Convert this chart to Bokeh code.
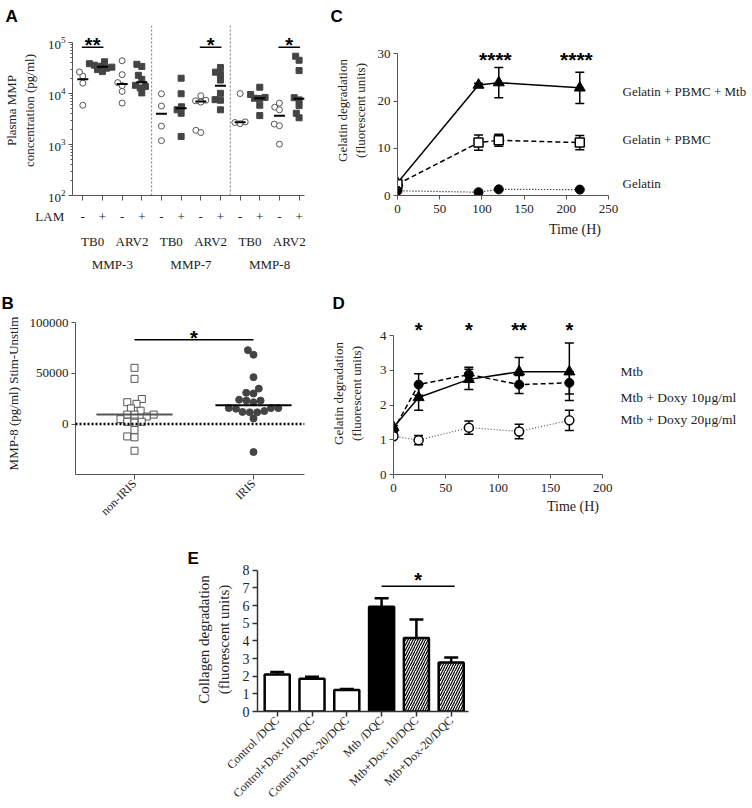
import math
import numpy as np
from bokeh.plotting import figure
from bokeh.models import (Range1d, FixedTicker, LinearAxis, Label, Span, Whisker,
                          ColumnDataSource, TeeHead, BasicTickFormatter)
from bokeh.layouts import column, row
from bokeh.embed import file_html
from bokeh.resources import INLINE

# ---------------- data ----------------
# Panel A: plasma MMP concentration (pg/ml), one list per LAM column
lam_signs = ["-", "+"]
lam_title = "LAM"
timepoints = ["TB0", "ARV2"]
mmps = ["MMP-3", "MMP-7", "MMP-8"]
a_mmp3_tb0_neg = [22000, 26500, 16000, 5900]
a_mmp3_tb0_pos = [27000, 29500, 31500, 33000, 34500, 36000, 38500, 42000]
a_mmp3_arv2_neg = [44000, 23500, 16400, 14300, 11000, 6500]
a_mmp3_arv2_pos = [37500, 34000, 22800, 19000, 14500, 13700, 12900, 10300]
a_mmp7_tb0_neg = [9900, 5700, 2300, 1190]
a_mmp7_tb0_pos = [20000, 9900, 5500, 4800, 4100, 1440]
a_mmp7_arv2_neg = [9050, 7400, 7200, 6800, 1900, 1720]
a_mmp7_arv2_pos = [32500, 26300, 23800, 18400, 10100, 7600, 7400, 4800]
a_mmp8_tb0_neg = [10000, 2780, 2700, 2570]
a_mmp8_tb0_pos = [13300, 9600, 8400, 8100, 8000, 5900, 3700]
a_mmp8_arv2_neg = [6500, 5400, 4800, 2520, 2340, 1015]
a_mmp8_arv2_pos = [54000, 45000, 28200, 8300, 7500, 5800, 4100, 3350]
A_groups = [a_mmp3_tb0_neg, a_mmp3_tb0_pos, a_mmp3_arv2_neg, a_mmp3_arv2_pos,
            a_mmp7_tb0_neg, a_mmp7_tb0_pos, a_mmp7_arv2_neg, a_mmp7_arv2_pos,
            a_mmp8_tb0_neg, a_mmp8_tb0_pos, a_mmp8_arv2_neg, a_mmp8_arv2_pos]
A_sig_pairs = [(0, 1), (6, 7), (10, 11)]
A_sig_marks = ["**", "*", "*"]

# Panel B: MMP-8 (pg/ml) Stim-Unstim
B_groups = ["non-IRIS", "IRIS"]
b_non_iris = [55400, 44550, 24700, 21500, 19900, 15400, 13100, 9300, 9300, 9300,
              7400, 4800, 2200, 1300, 2200, -5800, -12200, -13100, -26300]
b_iris = [72800, 68300, 46200, 34900, 30100, 30800, 24000, 23100, 23100, 21500,
          15700, 15100, 15700, 15700, 11500, 11900, 12800, 11500, 5450, -27600]

# Panel C: gelatin degradation over time
time_C = [0, 96, 120, 216]
c_mtb = [2.7, 23.4, 23.9, 22.8]
c_mtb_err = [0.3, 0.4, 3.2, 3.3]
c_pbmc = [2.4, 11.2, 11.7, 11.2]
c_pbmc_err = [0.3, 1.6, 1.25, 1.5]
c_gel = [1.0, 0.7, 1.3, 1.25]
C_series = ["Gelatin + PBMC + Mtb", "Gelatin + PBMC", "Gelatin"]
C_sig_times = [120, 216]
C_sig_marks = ["****", "****"]

# Panel D
time_D = [0, 24, 72, 120, 168]
d_mtb = [1.36, 2.22, 2.74, 2.96, 2.96]
d_mtb_err = [0.05, 0.37, 0.29, 0.41, 0.83]
d_dox10 = [1.28, 2.59, 2.88, 2.59, 2.64]
d_dox10_err = [0.05, 0.31, 0.21, 0.26, 0.32]
d_dox20 = [1.10, 0.99, 1.35, 1.24, 1.56]
d_dox20_err = [0.05, 0.13, 0.19, 0.21, 0.29]
D_series = ["Mtb", "Mtb + Doxy 10μg/ml", "Mtb + Doxy 20μg/ml"]
D_sig_marks = ["*", "*", "**", "*"]
D_sig_times = [24, 72, 120, 168]

# Panel E
E_labels = ["Control /DQC", "Control+Dox-10/DQC", "Control+Dox-20/DQC",
            "Mtb /DQC", "Mtb+Dox-10/DQC", "Mtb+Dox-20/DQC"]
e_vals = [2.1, 1.86, 1.22, 5.94, 4.16, 2.78]
e_err = [0.14, 0.11, 0.06, 0.48, 1.05, 0.28]
E_sig_pair = (3, 5)
E_sig_mark = "*"

# styles (kept apart from the data)
E_fill = ["open", "open", "open", "solid", "hatch", "hatch"]

SERIF = "Liberation Serif"
SANS = "Liberation Sans"
TXT = "#222222"
NB = "\u00a0"


class Map:
    """maps reference-pixel positions to data coordinates of one panel"""
    def __init__(self, px0, sx, py0, sy, ylog=False, ybase=0.0):
        self.px0, self.sx, self.py0, self.sy = px0, sx, py0, sy
        self.ylog, self.ybase = ylog, ybase

    def x(self, px):
        return (px - self.px0) / self.sx

    def y(self, py):
        v = self.ybase + (self.py0 - py) / self.sy
        return 10 ** v if self.ylog else v


def swarm(py, d):
    py = np.asarray(py, float)
    order = np.argsort(py, kind="stable")
    placed = []
    xs = np.zeros(len(py))
    for i in order:
        y = py[i]
        cands = [0.0]
        for (qx, qy) in placed:
            dy = abs(qy - y)
            if dy < d:
                dx = math.sqrt(d * d - dy * dy)
                cands += [qx + dx, qx - dx]
        cands.sort(key=lambda c: (abs(c), c))
        for c in cands:
            if all((c - qx) ** 2 + (y - qy) ** 2 >= d * d - 1e-6 for qx, qy in placed):
                xs[i] = c
                break
        placed.append((xs[i], y))
    return xs


def make_fig(fx0, fy0, fx1, fy1, left, right, top, bottom, x_range, y_range, y_axis_type="linear"):
    p = figure(width=fx1 - fx0, height=fy1 - fy0, x_range=x_range, y_range=y_range,
               y_axis_type=y_axis_type, output_backend="svg", toolbar_location=None,
               min_border_left=int(round(left - fx0)), min_border_right=int(round(fx1 - right)),
               min_border_top=int(round(top - fy0)), min_border_bottom=int(round(fy1 - bottom)))
    p.xgrid.visible = False
    p.ygrid.visible = False
    p.outline_line_color = None
    return p


def letter(p, t, frame_left, page_x):
    p.title.text = t
    p.title.text_font = SANS
    p.title.text_font_size = "17px"
    p.title.text_font_style = "bold"
    p.title.text_color = "black"
    p.title.align = "left"
    p.title.offset = page_x - frame_left
    p.title.standoff = 0


def style_axis(ax, size="13px", color="#555555", tick_out=4, standoff=3, width=1):
    ax.axis_line_color = color
    ax.axis_line_width = width
    ax.major_tick_line_color = color
    ax.major_tick_line_width = width
    ax.minor_tick_line_color = color
    ax.major_tick_in = 0
    ax.major_tick_out = tick_out
    ax.minor_tick_in = 0
    ax.minor_tick_out = 2
    ax.major_label_standoff = standoff
    ax.major_label_text_font = SERIF
    ax.major_label_text_font_size = size
    ax.major_label_text_color = TXT
    ax.axis_label_text_font = SERIF
    ax.axis_label_text_font_style = "normal"
    ax.axis_label_text_color = TXT


def text(p, x, y, t, size="13px", font=SERIF, bold=False, align="left", baseline="middle"):
    p.add_layout(Label(x=x, y=y, text=t, text_font=font, text_font_size=size,
                       text_font_style="bold" if bold else "normal", text_align=align,
                       text_baseline=baseline, text_color=TXT if font == SERIF else "black"))


def star(p, x, y, t, size="20px"):
    text(p, x, y, t, size=size, font=SANS, bold=True, align="center", baseline="middle")


# ---------------- Panel A ----------------
mA = Map(78.5, 20.0, 204.0, 53.67, ylog=True, ybase=2.0)
pA = make_fig(0, 0, 310, 283, 68, 304, 25, 204,
              Range1d(mA.x(68), mA.x(304)), Range1d(100, mA.y(25)), "log")
letter(pA, "A", 68, 1)
ya = pA.yaxis[0]
style_axis(ya)
ya.ticker = FixedTicker(ticks=[1e2, 1e3, 1e4, 1e5],
                        minor_ticks=[k * 10 ** n for n in (2, 3, 4) for k in range(2, 10)])
ya.bounds = (100, 1e5)
ya.axis_label = "Plasma MMP\nconcentration (pg/ml)"
ya.axis_label_text_font_size = "13px"
ya.axis_label_standoff = 8

n_cols = len(A_groups)
sign_labels = {i: lam_signs[i % 2] for i in range(n_cols)}
# the row title "LAM" sits left of the first "-" (padded so that "-" stays centred)
sign_labels[0] = lam_title + NB * 5 + lam_signs[0] + NB * 14
tp_labels = {i * 2 + 0.5: timepoints[i % 2] for i in range(n_cols // 2)}
mmp_labels = {i * 4 + 1.5: mmps[i] for i in range(len(mmps))}

xa1 = pA.xaxis[0]
style_axis(xa1, tick_out=5, standoff=8)
xa1.ticker = FixedTicker(ticks=list(sign_labels.keys()))
xa1.major_label_overrides = sign_labels
for labels, so in ((tp_labels, 7), (mmp_labels, 5)):
    ax = LinearAxis(ticker=FixedTicker(ticks=list(labels.keys())), major_label_overrides=labels)
    style_axis(ax, tick_out=0, standoff=so)
    ax.axis_line_color = None
    ax.major_tick_line_color = None
    ax.minor_tick_out = 0
    pA.add_layout(ax, "below")

for i, vals in enumerate(A_groups):
    vals = np.array(vals, float)
    dx = swarm(mA.sy * np.log10(vals), 5.5) / mA.sx
    if i % 2 == 0:
        pA.scatter(i + dx, vals, marker="circle", size=6, fill_color="white",
                   line_color="#555555", line_width=1)
    else:
        pA.scatter(i + dx, vals, marker="square", size=6, fill_color="#444444",
                   line_color="#444444")
    med = float(np.median(vals))
    pA.segment(x0=[i - 0.28], y0=[med], x1=[i + 0.28], y1=[med], line_color="black", line_width=2)

for loc in (3.5, 7.5):
    pA.add_layout(Span(location=loc, dimension="height", line_color="#777777",
                       line_dash="2 2", line_width=1))
for (i, j), mark in zip(A_sig_pairs, A_sig_marks):
    yb = mA.y(48)
    pA.segment(x0=[i - 0.05], y0=[yb], x1=[j + 0.05], y1=[yb], line_color="black", line_width=1.5)
    star(pA, (i + j) / 2, mA.y(46), mark)

# ---------------- Panel B ----------------
mB = Map(134.0, 119.0, 426.3, 0.00104)
pB = make_fig(0, 283, 310, 526, 75, 304, 312, 478,
              Range1d(mB.x(75), mB.x(304)), Range1d(mB.y(478), mB.y(312)))
letter(pB, "B", 75, 1)
yb_ax = pB.yaxis[0]
style_axis(yb_ax)
yb_ax.ticker = FixedTicker(ticks=[-50000, 0, 50000, 100000])
yb_ax.formatter = BasicTickFormatter(use_scientific=False)
yb_ax.bounds = (-50000, 100000)
yb_ax.axis_label = "MMP-8 (pg/ml) Stim-Unstim"
yb_ax.axis_label_text_font_size = "13px"
yb_ax.axis_label_standoff = 6
xb_ax = pB.xaxis[0]
style_axis(xb_ax, size="12px", tick_out=5, standoff=2)
xb_ax.ticker = FixedTicker(ticks=[0, 1])
xb_ax.major_label_overrides = {i: g for i, g in enumerate(B_groups)}
xb_ax.major_label_orientation = math.pi / 4

pB.add_layout(Span(location=0, dimension="width", line_color="black",
                   line_dash="2 2", line_width=2.5))
for i, vals in enumerate([b_non_iris, b_iris]):
    vals = np.array(vals, float)
    dx = swarm(vals * mB.sy, 7.3) / mB.sx
    if i == 0:
        pB.scatter(i + dx, vals, marker="square", size=7, fill_color="white",
                   line_color="#555555", line_width=1)
    else:
        pB.scatter(i + dx, vals, marker="circle", size=7, fill_color="#444444",
                   line_color="#444444")
    med = float(np.median(vals))
    pB.segment(x0=[i - 0.32], y0=[med], x1=[i + 0.32], y1=[med],
               line_color="#555555" if i == 0 else "black", line_width=2)
ysig = mB.y(340)
pB.segment(x0=[0], y0=[ysig], x1=[1], y1=[ysig], line_color="black", line_width=1.5)
star(pB, 0.5, mB.y(338), "*")

# ---------------- Panel C ----------------
mC = Map(397.0, 0.844, 195.0, 4.777)
pC = make_fig(310, 0, 752, 283, 397, 752, 23, 195,
              Range1d(mC.x(397), mC.x(752)), Range1d(0, mC.y(23)))
letter(pC, "C", 397, 330)
xc = pC.xaxis[0]
style_axis(xc, tick_out=4, standoff=5)
xc.ticker = FixedTicker(ticks=[0, 50, 100, 150, 200, 250])
xc.bounds = (0, 250)
xc.axis_label = "Time (H)"
xc.axis_label_text_font_size = "14px"
xc.axis_label_standoff = 6
yc = pC.yaxis[0]
style_axis(yc)
yc.ticker = FixedTicker(ticks=[0, 10, 20, 30])
yc.bounds = (0, 30)
yc.axis_label = "Gelatin degradation\n(fluorescent units)"
yc.axis_label_text_font_size = "13px"
yc.axis_label_standoff = 7


def err_bars(p, xs, ys, es, cap):
    ys = np.array(ys, float)
    es = np.array(es, float)
    src = ColumnDataSource(dict(base=list(xs), lower=list(ys - es), upper=list(ys + es)))
    w = Whisker(source=src, base="base", lower="lower", upper="upper", line_color="black",
                line_width=1.5,
                upper_head=TeeHead(size=cap, line_color="black", line_width=1.5),
                lower_head=TeeHead(size=cap, line_color="black", line_width=1.5))
    p.add_layout(w)


err_bars(pC, time_C, c_mtb, c_mtb_err, 9)
err_bars(pC, time_C, c_pbmc, c_pbmc_err, 9)
pC.line(time_C, c_mtb, line_color="black", line_width=1.5)
pC.line(time_C, c_pbmc, line_color="black", line_width=1.5, line_dash="5 3")
pC.line(time_C, c_gel, line_color="black", line_width=1.2, line_dash="1 2")
pC.scatter(time_C, c_mtb, marker="triangle", size=11, fill_color="black", line_color="black")
pC.scatter(time_C, c_pbmc, marker="square", size=9, fill_color="white", line_color="black",
           line_width=1.5)
pC.scatter(time_C, c_gel, marker="circle", size=9, fill_color="black", line_color="black")
for t, mark in zip(C_sig_times, C_sig_marks):
    star(pC, t - 4, mC.y(57), mark, size="21px")
for name, py in zip(C_series, (90, 138, 183)):
    text(pC, mC.x(622), mC.y(py), name, size="13px")

# ---------------- Panel D ----------------
mD = Map(393.0, 1.0467, 474.0, 35.575)
pD = make_fig(310, 283, 752, 526, 393, 752, 308, 474,
              Range1d(mD.x(393), mD.x(752)), Range1d(0, mD.y(308)))
letter(pD, "D", 393, 332)
xd = pD.xaxis[0]
style_axis(xd, tick_out=4, standoff=5)
xd.ticker = FixedTicker(ticks=[0, 50, 100, 150, 200])
xd.bounds = (0, 200)
xd.axis_label = "Time (H)"
xd.axis_label_text_font_size = "14px"
xd.axis_label_standoff = 4
yd = pD.yaxis[0]
style_axis(yd)
yd.ticker = FixedTicker(ticks=[0, 1, 2, 3, 4])
yd.bounds = (0, 4)
yd.axis_label = "Gelatin degradation\n(fluorescent units)"
yd.axis_label_text_font_size = "13px"
yd.axis_label_standoff = 13

err_bars(pD, time_D, d_mtb, d_mtb_err, 9)
err_bars(pD, time_D, d_dox10, d_dox10_err, 9)
err_bars(pD, time_D, d_dox20, d_dox20_err, 9)
pD.line(time_D, d_dox20, line_color="#555555", line_width=1.2, line_dash="1 2")
pD.line(time_D, d_mtb, line_color="black", line_width=1.5)
pD.line(time_D, d_dox10, line_color="black", line_width=1.5, line_dash="5 3")
pD.scatter(time_D, d_mtb, marker="triangle", size=11, fill_color="black", line_color="black")
pD.scatter(time_D, d_dox10, marker="circle", size=9, fill_color="black", line_color="black")
pD.scatter(time_D, d_dox20, marker="circle", size=9, fill_color="white", line_color="black",
           line_width=1.5)
for t, mark in zip(D_sig_times, D_sig_marks):
    star(pD, t, mD.y(326), mark)
for name, py in zip(D_series, (368, 395, 418)):
    text(pD, mD.x(620), mD.y(py), name, size="13.5px")

# ---------------- Panel E ----------------
mE = Map(276.7, 34.8, 713.0, 17.9)
pE = make_fig(0, 526, 752, 808, 257, 468, 567, 713,
              Range1d(mE.x(257), mE.x(468)), Range1d(0, mE.y(567)))
letter(pE, "E", 257, 187)
xe = pE.xaxis[0]
style_axis(xe, size="12px", color="#333333", tick_out=5, standoff=2, width=1.5)
xe.ticker = FixedTicker(ticks=list(range(len(E_labels))))
xe.major_label_overrides = {i: l for i, l in enumerate(E_labels)}
xe.major_label_orientation = math.pi / 4
ye = pE.yaxis[0]
style_axis(ye, size="14px", color="#333333", tick_out=5, standoff=3, width=1.5)
ye.ticker = FixedTicker(ticks=list(range(9)))
ye.bounds = (0, 8)
ye.axis_label = "Collagen degradation\n(fluorescent units)"
ye.axis_label_text_font_size = "15px"
ye.axis_label_standoff = 8

idx = np.arange(len(E_labels))
vals_e = np.array(e_vals, float)
errs_e = np.array(e_err, float)
src_e = ColumnDataSource(dict(base=list(idx), lower=list(vals_e), upper=list(vals_e + errs_e)))
pE.add_layout(Whisker(source=src_e, base="base", lower="lower", upper="upper",
                      line_color="black", line_width=2.5, lower_head=None,
                      upper_head=TeeHead(size=14, line_color="black", line_width=2.5)))
fills = np.array(E_fill)
for kind in ("open", "solid", "hatch"):
    m = fills == kind
    kw = dict(fill_color="white", line_color="black", line_width=2.5)
    if kind == "solid":
        kw["fill_color"] = "black"
    if kind == "hatch":
        kw.update(hatch_pattern="/", hatch_scale=5, hatch_weight=1.2, hatch_color="black")
    pE.vbar(x=idx[m], top=vals_e[m], width=0.72, bottom=0, **kw)
i0, i1 = E_sig_pair
yse = mE.y(586)
pE.segment(x0=[i0], y0=[yse], x1=[i1 + 0.1], y1=[yse], line_color="black", line_width=1.5)
star(pE, (i0 + i1) / 2 + 0.05, mE.y(580), E_sig_mark)

layout = column(row(pA, pC), row(pB, pD), pE)
open("out.html", "w").write(file_html(layout, INLINE))
